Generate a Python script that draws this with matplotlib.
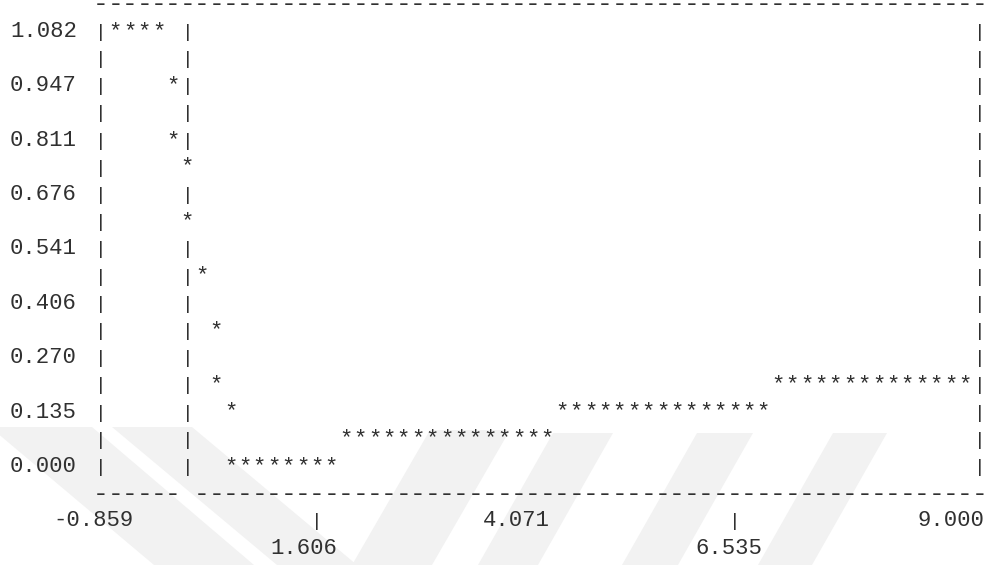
import matplotlib
matplotlib.use("Agg")
import matplotlib.pyplot as plt
from matplotlib.patches import Polygon

# ---- data -------------------------------------------------------------
# plateau at the top of the curve
x_head = [-0.697, -0.536, -0.374, -0.213]
y_head = [1.082, 1.082, 1.082, 1.082]
# steep fall towards zero
x_fall = [-0.051, -0.051, 0.111, 0.111, 0.272, 0.434, 0.434, 0.596, 0.596]
y_fall = [0.947, 0.811, 0.744, 0.609, 0.473, 0.338, 0.203, 0.135, 0.000]
# flat floor
x_floor = [0.757, 0.919, 1.081, 1.242, 1.404, 1.566, 1.727]
y_floor = [0.000, 0.000, 0.000, 0.000, 0.000, 0.000, 0.000]
# three rising steps
x_step1 = [1.889, 2.050, 2.212, 2.374, 2.535, 2.697, 2.859, 3.020,
           3.182, 3.344, 3.505, 3.667, 3.828, 3.990, 4.152]
y_step1 = [0.068, 0.068, 0.068, 0.068, 0.068, 0.068, 0.068, 0.068,
           0.068, 0.068, 0.068, 0.068, 0.068, 0.068, 0.068]
x_step2 = [4.313, 4.475, 4.637, 4.798, 4.960, 5.121, 5.283, 5.445,
           5.606, 5.768, 5.930, 6.091, 6.253, 6.415, 6.576]
y_step2 = [0.135, 0.135, 0.135, 0.135, 0.135, 0.135, 0.135, 0.135,
           0.135, 0.135, 0.135, 0.135, 0.135, 0.135, 0.135]
x_step3 = [6.738, 6.899, 7.061, 7.223, 7.384, 7.546, 7.708, 7.869,
           8.031, 8.192, 8.354, 8.516, 8.677, 8.839]
y_step3 = [0.203, 0.203, 0.203, 0.203, 0.203, 0.203, 0.203,
           0.203, 0.203, 0.203, 0.203, 0.203, 0.203, 0.203]

y_ticks = [1.082, 0.947, 0.811, 0.676, 0.541, 0.406, 0.270, 0.135, 0.000]
y_tick_labels = ["1.082", "0.947", "0.811", "0.676", "0.541",
                 "0.406", "0.270", "0.135", "0.000"]
x_min, x_max = -0.859, 9.000
y_min, y_max = 0.000, 1.082
x_tick_labels = ["-0.859", "1.606", "4.071", "6.535", "9.000"]

# ---- character grid ---------------------------------------------------
W, H, DPI = 992, 565, 100
CELL_W, CELL_X0 = 14.4, 7.4        # column pitch / left offset (px)
ROW_H, ROW_Y0 = 27.2, 9.5          # line pitch / first baseline (px)
COL_LEFT, COL_RIGHT, COL_AXIS = 6, 67, 12
N_ROWS = 16
DX = (x_max - x_min) / (COL_RIGHT - COL_LEFT)
DY = (y_max - y_min) / N_ROWS
PX_Y = DY / ROW_H                  # data-y per pixel


def col_x(c):
    return x_min + (c - COL_LEFT) * DX


def row_y(k):
    return y_max - (k - 1) * DY


def px_col(px):
    return (px - CELL_X0) / CELL_W - 0.5


FONT = "Liberation Mono"
INK = "#303030"

fig = plt.figure(figsize=(W / DPI, H / DPI), dpi=DPI)
fig.patch.set_facecolor("white")

ax = fig.add_axes([0, 0, 1, 1])
ax.set_axis_off()
ax.set_xlim(col_x(px_col(0)), col_x(px_col(W)))
ax.set_ylim(row_y((H - ROW_Y0) / ROW_H), row_y(-ROW_Y0 / ROW_H))

# faint diagonal watermark bands in the lower part of the page
bands = [
    [(-10, 427), (92, 427), (254, 565), (154, 565)],
    [(112, 427), (192, 427), (357, 565), (277, 565)],
    [(430, 430), (510, 430), (432, 565), (352, 565)],
    [(553, 433), (613, 433), (538, 565), (478, 565)],
    [(697, 433), (753, 433), (678, 565), (622, 565)],
    [(833, 433), (887, 433), (812, 565), (758, 565)],
]
for b in bands:
    ax.add_patch(Polygon([(x / W, 1 - y / H) for x, y in b],
                         closed=True, transform=fig.transFigure,
                         facecolor="#f2f2f2", edgecolor="none", zorder=0))

txt = dict(family=FONT, color=INK, ha="center", va="baseline", zorder=3)

# plotted points
series = [(x_head, y_head), (x_fall, y_fall), (x_floor, y_floor),
          (x_step1, y_step1), (x_step2, y_step2), (x_step3, y_step3)]
occupied = set()
for xs, ys in series:
    for x, y in zip(xs, ys):
        ax.text(x, y, "*", fontsize=16, **txt)
        occupied.add((round((x - x_min) / DX) + COL_LEFT,
                      round((y_max - y) / DY) + 1))

# frame: top rule, bottom rule (broken at the zero axis)
for c in range(COL_LEFT, COL_RIGHT + 1):
    ax.text(col_x(c), row_y(0) - 1.5 * PX_Y, "-", fontsize=19, **txt)
    if c != COL_AXIS:
        ax.text(col_x(c), row_y(N_ROWS + 2) - 1.5 * PX_Y, "-",
                fontsize=19, **txt)

# borders and the zero axis
for k in range(1, N_ROWS + 2):
    for c in (COL_LEFT, COL_AXIS, COL_RIGHT):
        if (c, k) not in occupied:
            ax.text(col_x(c), row_y(k), "|", fontsize=14, **txt)

# y tick labels
for v, lab in zip(y_ticks, y_tick_labels):
    ax.text(col_x(2), v, lab, fontsize=16, **txt)

# x tick labels, staggered over two lines
x_lab_cols = [5.48, 20.06, 34.85, 49.6, 65.0]
x_lab_rows = [N_ROWS + 3, N_ROWS + 4, N_ROWS + 3, N_ROWS + 4, N_ROWS + 3]
for lab, c, k in zip(x_tick_labels, x_lab_cols, x_lab_rows):
    ax.text(col_x(c), row_y(k), lab, fontsize=16, **txt)
    if k == N_ROWS + 4:
        ax.text(col_x(round(c + 0.5)), row_y(N_ROWS + 3), "|",
                fontsize=14, **txt)

fig.savefig("out.png", dpi=DPI, facecolor="white")
